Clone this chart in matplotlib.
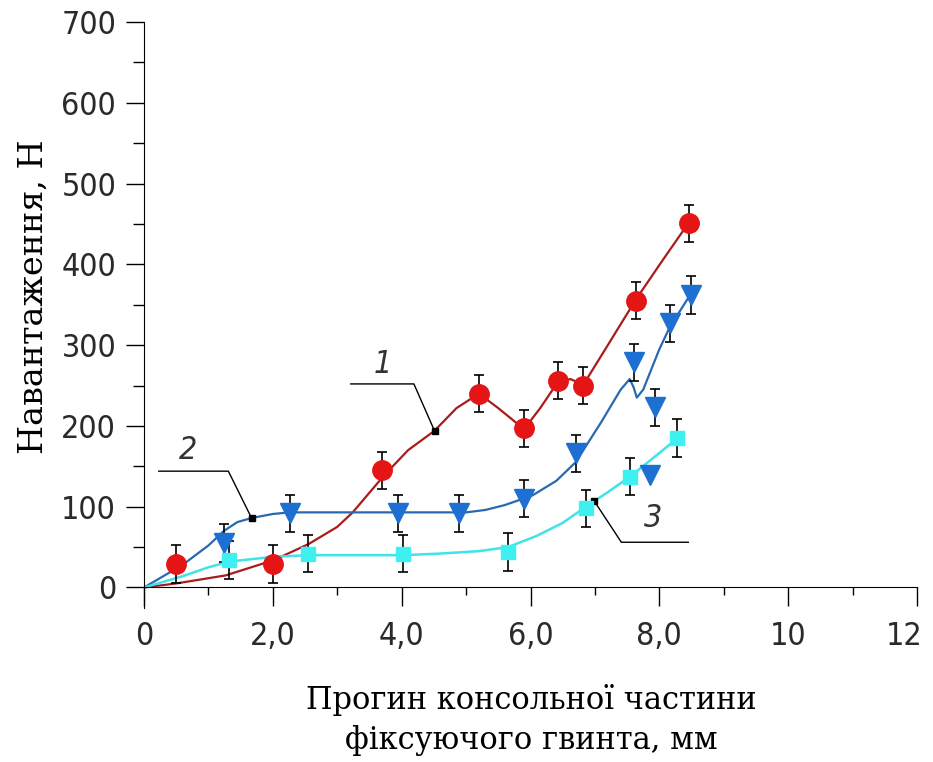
import matplotlib
matplotlib.use('Agg')
import matplotlib.pyplot as plt
import matplotlib.transforms as mtransforms
from matplotlib.ticker import MultipleLocator, FixedLocator

# measured points (markers + error bars)
x1 = [0.5, 2.0, 3.7, 5.2, 5.9, 6.43, 6.82, 7.64, 8.46]
y1 = [29, 29, 145, 240, 197, 256, 250, 355, 451]
x2 = [1.24, 2.26, 3.95, 4.89, 5.9, 6.7, 7.6, 7.93, 8.16, 8.49]
y2 = [55, 92, 92, 92, 110, 166, 279, 223, 327, 362]
x3 = [1.32, 2.55, 4.02, 5.65, 6.86, 7.54, 8.27]
y3 = [34, 42, 42, 44, 98, 137, 185]
err = 23

# stray triangle without error bar
x2_extra = [7.86]
y2_extra = [139]

# fitted curves
c1_x = [0, 0.5, 1.27, 2.02, 2.56, 3.0, 3.24, 3.73, 4.1, 4.51, 4.85, 5.2, 5.5, 5.9, 6.15, 6.43, 6.62, 6.82, 7.2, 7.64, 8.05, 8.46]
c1_y = [0, 5, 15, 34, 54, 75, 93, 139, 170, 194, 222, 240, 222, 196, 222, 255, 258, 251, 300, 357, 405, 452]
c2_x = [0, 0.6, 1.0, 1.24, 1.45, 1.67, 2.0, 2.26, 5.0, 5.3, 5.6, 6.03, 6.4, 6.7, 7.1, 7.4, 7.54, 7.6, 7.65, 7.75, 8.0, 8.16, 8.46]
c2_y = [0, 28, 52, 70, 81, 86, 91, 93, 93, 96, 102, 114, 132, 155, 205, 245, 258, 248, 235, 245, 295, 322, 360]
c3_x = [0, 0.6, 1.0, 1.32, 2.0, 2.55, 4.0, 4.6, 5.2, 5.65, 6.1, 6.5, 6.86, 6.99, 7.2, 7.54, 7.9, 8.27]
c3_y = [0, 14, 25, 32, 38, 40, 40, 42, 45, 50, 64, 80, 100, 107, 118, 137, 160, 184]

xtick_pos = [0, 2, 4, 6, 8, 10, 12]
xtick_lab = ['0', '2,0', '4,0', '6,0', '8,0', '10', '12']

fig = plt.figure(figsize=(9.33, 7.62), dpi=100)
ax = fig.add_axes([0.1543, 0.2025, 0.8286, 0.7686])

ax.plot(c1_x, c1_y, color='#a81c1c', lw=1.6, zorder=2)
ax.plot(c2_x, c2_y, color='#2a68b0', lw=1.6, zorder=2)
ax.plot(c3_x, c3_y, color='#3fe3e8', lw=1.8, zorder=2)

ax.errorbar(x1, y1, yerr=err, fmt='o', color='#e51515', ms=14, ecolor='black',
            elinewidth=1.2, capsize=3.5, capthick=1.2, zorder=3)
ax.errorbar(x2, y2, yerr=err, fmt='v', color='#1d6fd1', ms=15, ecolor='black',
            elinewidth=1.2, capsize=3.5, capthick=1.2, zorder=3)
ax.errorbar(x3, y3, yerr=err, fmt='s', color='#3ff0f0', ms=10, ecolor='black',
            elinewidth=1.2, capsize=3.5, capthick=1.2, zorder=3)
ax.plot(x2_extra, y2_extra, 'v', color='#1d6fd1', ms=15, zorder=3)

# curve labels with leaders
ax.plot([3.21, 4.19, 4.51], [252, 252, 194], color='black', lw=1)
ax.plot([4.51], [194], 's', color='black', ms=4)
ax.plot([0.23, 1.31, 1.67], [144, 144, 86], color='black', lw=1)
ax.plot([1.67], [86], 's', color='black', ms=4)
ax.plot([6.99, 7.41, 8.45], [107, 56, 56], color='black', lw=1)
ax.plot([6.99], [107], 's', color='black', ms=4)

sans = ['DejaVu Sans']
lab_font = dict(family=sans, fontsize=23, stretch='condensed',
                style='italic', color='#333333', ha='center', va='center')
ax.text(3.71, 276, '1', **lab_font)
ax.text(0.68, 169, '2', **lab_font)
ax.text(7.91, 85, '3', **lab_font)

ax.set_xlim(0, 12)
ax.set_ylim(-25, 700)
ax.spines['top'].set_visible(False)
ax.spines['right'].set_visible(False)
ax.spines['bottom'].set_position(('data', 0))
ax.spines['left'].set_bounds(-25, 700)

ax.xaxis.set_major_locator(FixedLocator(xtick_pos))
ax.set_xticklabels(xtick_lab)
ax.xaxis.set_minor_locator(MultipleLocator(1))
ax.yaxis.set_major_locator(MultipleLocator(100))
ax.yaxis.set_minor_locator(MultipleLocator(50))
ax.tick_params(axis='x', which='major', direction='out', length=14, width=1, pad=10)
ax.tick_params(axis='x', which='minor', direction='out', length=6, width=1)
ax.tick_params(axis='y', which='major', direction='out', length=13, width=1, pad=7)
ax.tick_params(axis='y', which='minor', direction='out', length=8, width=1)
for t in ax.get_xticklabels() + ax.get_yticklabels():
    t.set_fontfamily(sans)
    t.set_fontstretch('condensed')
    t.set_fontsize(23)
    t.set_color('#2a2a2a')

# keep the last x label inside the picture
last = ax.get_xticklabels()[-1]
last.set_transform(last.get_transform() + mtransforms.ScaledTranslation(-9 / 72, 0, fig.dpi_scale_trans))

serif = ['DejaVu Serif']
fig.text(0.036, 0.61, 'Навантаження, Н', family=serif, fontsize=24,
         rotation=90, ha='center', va='center')
fig.text(0.569, 0.055, 'Прогин консольної частини\nфіксуючого гвинта, мм',
         family=serif, fontsize=22, ha='center', va='center', linespacing=1.35)

plt.savefig('out.png', dpi=100)
